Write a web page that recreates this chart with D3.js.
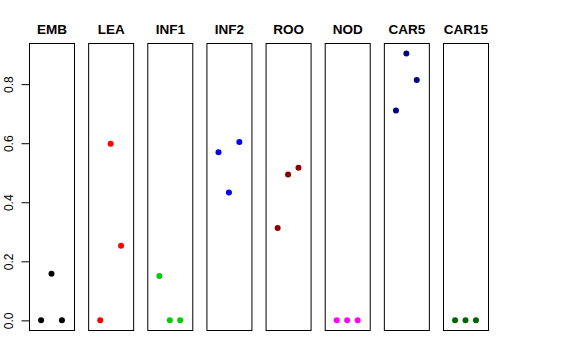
<!DOCTYPE html>
<html><head><meta charset="utf-8">
<script src="https://cdn.jsdelivr.net/npm/d3@7"></script>
<style>body{margin:0;background:#fff}svg{display:block}</style>
</head><body>
<script>
const categories = ["EMB","LEA","INF1","INF2","ROO","NOD","CAR5","CAR15"];
const colors = ["#000000","#FF0000","#00CD00","#0000FF","#8B0000","#FF00FF","#00008B","#006400"];
const values = [
  [0, 0.158, 0],
  [0, 0.598, 0.253],
  [0.150, 0, 0],
  [0.569, 0.433, 0.604],
  [0.313, 0.494, 0.517],
  [0, 0, 0],
  [0.711, 0.904, 0.814],
  [0, 0, 0]
];
const yTicks = [0, 0.2, 0.4, 0.6, 0.8];

const W = 576, H = 360;
const svg = d3.select("body").append("svg").attr("width", W).attr("height", H);
const font = "'Liberation Sans', Arial, Helvetica, sans-serif";

const panel = d3.scaleBand().domain(categories).range([29, 488]).paddingInner(0.239).paddingOuter(0);
const y = d3.scaleLinear().domain([-0.036, 0.936]).range([331, 44]);
const x = d3.scaleLinear().domain([-0.16, 4.16]).range([0, panel.bandwidth()]);

categories.forEach((c, i) => {
  const g = svg.append("g").attr("transform", `translate(${panel(c)},0)`);
  g.append("rect")
    .attr("x", 0.5).attr("y", y.range()[1] - 0.5)
    .attr("width", panel.bandwidth()).attr("height", y.range()[0] - y.range()[1])
    .attr("fill", "none").attr("stroke", "#000").attr("stroke-width", 1);
  g.append("text")
    .attr("x", panel.bandwidth() / 2 + 0.5).attr("y", 34)
    .attr("text-anchor", "middle")
    .attr("font-family", font).attr("font-weight", "bold").attr("font-size", 13.5)
    .text(c);
  g.selectAll("circle").data(values[i]).enter().append("circle")
    .attr("cx", (d, j) => x(j + 1))
    .attr("cy", d => y(d))
    .attr("r", 3)
    .attr("fill", colors[i]);
});

// y axis on first panel
const axis = d3.axisLeft(y).tickValues(yTicks).tickFormat(d3.format(".1f")).tickSize(8).tickPadding(4);
const ag = svg.append("g").attr("transform", `translate(${panel(categories[0]) + 0.5},0)`).call(axis);
ag.selectAll(".domain").attr("d", `M0,${y(0)}V${y(0.8)}`).attr("stroke", "#000");
ag.selectAll(".tick line").attr("stroke", "#000");
ag.selectAll(".tick text")
  .attr("font-family", font).attr("font-size", 12).attr("fill", "#000")
  .attr("x", 0).attr("y", 0).attr("dy", 0)
  .attr("text-anchor", "middle")
  .attr("transform", "translate(-16.5,0) rotate(-90)");
</script>
</body></html>
